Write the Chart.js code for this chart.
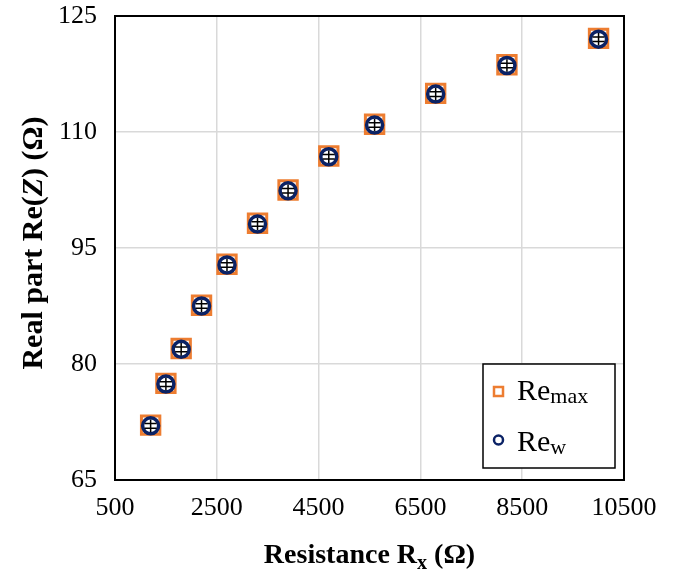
<!DOCTYPE html>
<html>
<head>
<meta charset="utf-8">
<script src="https://cdn.jsdelivr.net/npm/chart.js@4.4.1/dist/chart.umd.min.js"></script>
<style>
  html, body { margin: 0; padding: 0; background: #fff; }
  #wrap { width: 677px; height: 576px; }
</style>
</head>
<body>
<div id="wrap"><canvas id="reChart"></canvas></div>
<script>
// resistance values (ohm) and measured real parts
var resistance = [1200, 1500, 1800, 2200, 2700, 3300, 3900, 4700, 5600, 6800, 8200, 10000];
var reMax = [72.1, 77.5, 82.0, 87.6, 92.9, 98.2, 102.5, 106.9, 111.0, 115.0, 118.7, 122.1];
var reW   = [72.0, 77.4, 81.9, 87.5, 92.8, 98.1, 102.4, 106.8, 110.9, 114.9, 118.6, 122.0];
var reErr = [0.3, 0.3, 0.3, 0.3, 0.3, 0.3, 0.3, 0.3, 0.3, 0.3, 0.3, 0.3];
var xTicks = [500, 2500, 4500, 6500, 8500, 10500];
var yTicks = [65, 80, 95, 110, 125];

var serif = "'Liberation Serif', 'Times New Roman', serif";
var orange = "#ED7D31";
var navy = "#0B2265";

function toPoints(xs, ys) {
    var pts = [];
    for (var i = 0; i < xs.length; i++) {
        pts.push({ x: xs[i], y: ys[i] });
    }
    return pts;
}

// small black error crosses on top of the markers
var errorBars = {
    id: 'errorBars',
    afterDatasetsDraw: function(chart) {
        var ctx = chart.ctx;
        var xs = chart.scales.x, ys = chart.scales.y;
        ctx.save();
        ctx.strokeStyle = '#000';
        ctx.lineWidth = 1.5;
        for (var i = 0; i < resistance.length; i++) {
            var px = xs.getPixelForValue(resistance[i]);
            var top = ys.getPixelForValue(reW[i] + reErr[i]);
            var bot = ys.getPixelForValue(reW[i] - reErr[i]);
            ctx.beginPath();
            ctx.moveTo(px, top - 4);
            ctx.lineTo(px, bot + 4);
            ctx.moveTo(px - 6, top);
            ctx.lineTo(px + 6, top);
            ctx.moveTo(px - 6, bot);
            ctx.lineTo(px + 6, bot);
            ctx.stroke();
        }
        ctx.restore();
    }
};

// frame, axis titles and the boxed legend
var decorations = {
    id: 'decorations',
    afterDraw: function(chart) {
        var ctx = chart.ctx;
        var a = chart.chartArea;
        ctx.save();

        ctx.strokeStyle = '#000';
        ctx.lineWidth = 2;
        ctx.strokeRect(a.left, a.top, a.right - a.left, a.bottom - a.top);

        // x title with subscript
        ctx.fillStyle = '#000';
        ctx.textBaseline = 'alphabetic';
        var big = "bold 28px " + serif, small = "bold 20px " + serif;
        var parts = [["Resistance R", big, 0], ["x", small, 6], [" (Ω)", big, 0]];
        var w = 0;
        parts.forEach(function(p) { ctx.font = p[1]; w += ctx.measureText(p[0]).width; });
        var cx = (a.left + a.right) / 2 - w / 2;
        parts.forEach(function(p) {
            ctx.font = p[1];
            ctx.fillText(p[0], cx, 563 + p[2]);
            cx += ctx.measureText(p[0]).width;
        });

        // y title, rotated, italic Z
        var ybig = "bold 30px " + serif;
        ctx.translate(42, 243);
        ctx.rotate(-Math.PI / 2);
        var yparts = [["Real part Re(", ybig], ["Z", "bold italic 30px " + serif], [") (Ω)", ybig]];
        w = 0;
        yparts.forEach(function(p) { ctx.font = p[1]; w += ctx.measureText(p[0]).width; });
        cx = -w / 2;
        yparts.forEach(function(p) {
            ctx.font = p[1];
            ctx.fillText(p[0], cx, 0);
            cx += ctx.measureText(p[0]).width;
        });
        ctx.setTransform(1, 0, 0, 1, 0, 0);

        // legend box
        var bx = a.right - 141, by = a.bottom - 116, bw = 132, bh = 104;
        ctx.fillStyle = '#fff';
        ctx.fillRect(bx, by, bw, bh);
        ctx.strokeStyle = '#000';
        ctx.lineWidth = 1.5;
        ctx.strokeRect(bx, by, bw, bh);

        ctx.strokeStyle = orange;
        ctx.lineWidth = 2.5;
        ctx.strokeRect(bx + 11, by + 23, 9, 9);

        ctx.strokeStyle = navy;
        ctx.lineWidth = 2.5;
        ctx.beginPath();
        ctx.arc(bx + 15.5, by + 76, 4.5, 0, Math.PI * 2);
        ctx.stroke();

        ctx.fillStyle = '#000';
        var labels = [["max", by + 36], ["w", by + 87]];
        labels.forEach(function(l) {
            ctx.font = "30px " + serif;
            ctx.fillText("Re", bx + 34, l[1]);
            var rw = ctx.measureText("Re").width;
            ctx.font = "22px " + serif;
            ctx.fillText(l[0], bx + 34 + rw, l[1] + 3);
        });

        ctx.restore();
    }
};

var ctx = document.getElementById('reChart');
var reChart = new Chart(ctx, {
    type: 'scatter',
    data: {
        datasets: [
            {
                label: 'Re max',
                data: toPoints(resistance, reMax),
                pointStyle: 'rect',
                pointRadius: 13,
                pointHoverRadius: 13,
                backgroundColor: '#fff',
                borderColor: orange,
                borderWidth: 3,
                order: 2
            },
            {
                label: 'Re w',
                data: toPoints(resistance, reW),
                pointStyle: 'circle',
                pointRadius: 8,
                pointHoverRadius: 8,
                backgroundColor: '#fff',
                borderColor: navy,
                borderWidth: 3.5,
                order: 1
            }
        ]
    },
    options: {
        responsive: true,
        maintainAspectRatio: false,
        animation: false,
        layout: { padding: { top: 14, right: 53, left: 0, bottom: 0 } },
        plugins: {
            legend: { display: false },
            tooltip: { enabled: false }
        },
        scales: {
            x: {
                type: 'linear',
                min: 500,
                max: 10500,
                afterBuildTicks: function(scale) {
                    scale.ticks = xTicks.map(function(v) { return { value: v }; });
                },
                afterFit: function(scale) {
                    scale.height = 96;
                    scale.paddingLeft = 0;
                    scale.paddingRight = 0;
                },
                grid: { color: '#d9d9d9', lineWidth: 1.5, drawTicks: false },
                border: { display: false },
                ticks: {
                    color: '#000',
                    padding: 13,
                    maxRotation: 0,
                    font: { family: serif, size: 26 },
                    callback: function(v) { return String(v); }
                }
            },
            y: {
                type: 'linear',
                min: 65,
                max: 125,
                afterBuildTicks: function(scale) {
                    scale.ticks = yTicks.map(function(v) { return { value: v }; });
                },
                afterFit: function(scale) {
                    scale.width = 115;
                    scale.paddingTop = 0;
                    scale.paddingBottom = 0;
                },
                grid: { color: '#d9d9d9', lineWidth: 1.5, drawTicks: false },
                border: { display: false },
                ticks: {
                    color: '#000',
                    padding: 18,
                    font: { family: serif, size: 26 },
                    callback: function(v) { return String(v); }
                }
            }
        }
    },
    plugins: [errorBars, decorations]
});
</script>
</body>
</html>
